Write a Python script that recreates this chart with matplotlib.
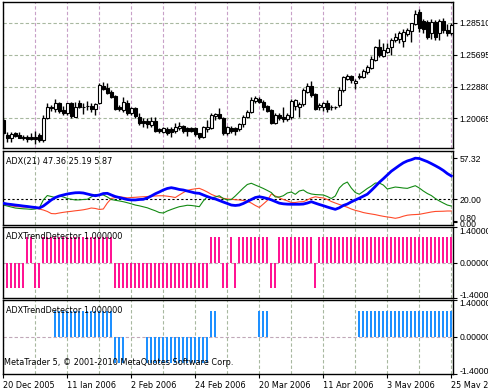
import matplotlib
matplotlib.use('Agg')
import matplotlib.pyplot as plt
import matplotlib.transforms as mtransforms
import numpy as np

# EURUSD daily, 20 Dec 2005 - 25 May 2006 --------------------------------------------

opens = [1.1993, 1.1861, 1.1834, 1.1878, 1.1861, 1.1843, 1.1843, 1.1843, 1.1843, 1.1861,
         1.1816, 1.2010, 1.2107, 1.2090, 1.2143, 1.2081, 1.2055, 1.2143, 1.2019, 1.2143,
         1.2107, 1.2116, 1.2116, 1.2090, 1.2143, 1.2293, 1.2275, 1.2240, 1.2204, 1.2107,
         1.2081, 1.2143, 1.2055, 1.2099, 1.2019, 1.1984, 1.1984, 1.1949, 1.1984, 1.1913,
         1.1887, 1.1913, 1.1913, 1.1896, 1.1922, 1.1940, 1.1922, 1.1922, 1.1922, 1.1878,
         1.1843, 1.1913, 1.1922, 1.2028, 1.2046, 1.2010, 1.1878, 1.1922, 1.1922, 1.1913,
         1.1958, 1.2019, 1.2063, 1.2160, 1.2178, 1.2152, 1.2116, 1.2081, 1.1966, 1.2037,
         1.2019, 1.2002, 1.2019, 1.2116, 1.2107, 1.2134, 1.2240, 1.2293, 1.2222, 1.2107,
         1.2107, 1.2143, 1.2107, 1.2107, 1.2125, 1.2257, 1.2354, 1.2381, 1.2319, 1.2372,
         1.2372, 1.2416, 1.2451, 1.2522, 1.2637, 1.2557, 1.2593, 1.2637, 1.2698, 1.2707,
         1.2690, 1.2751, 1.2778, 1.2839, 1.2945, 1.2866, 1.2857, 1.2760, 1.2857, 1.2760,
         1.2866, 1.2787, 1.2760]
highs = [1.2010, 1.1887, 1.1887, 1.1887, 1.1887, 1.1861, 1.1861, 1.1878, 1.1896, 1.1878,
         1.2037, 1.2143, 1.2125, 1.2178, 1.2152, 1.2116, 1.2143, 1.2152, 1.2152, 1.2169,
         1.2143, 1.2160, 1.2143, 1.2143, 1.2319, 1.2328, 1.2319, 1.2257, 1.2213, 1.2125,
         1.2196, 1.2169, 1.2107, 1.2107, 1.2055, 1.2010, 1.2010, 1.2019, 1.2019, 1.1922,
         1.1931, 1.1931, 1.1931, 1.1966, 1.1975, 1.1949, 1.1931, 1.1931, 1.1931, 1.1882,
         1.1940, 1.1993, 1.2055, 1.2055, 1.2099, 1.2019, 1.1940, 1.1940, 1.1931, 1.1966,
         1.2037, 1.2081, 1.2196, 1.2204, 1.2196, 1.2169, 1.2125, 1.2090, 1.2055, 1.2055,
         1.2107, 1.2055, 1.2178, 1.2178, 1.2152, 1.2275, 1.2319, 1.2337, 1.2231, 1.2143,
         1.2152, 1.2169, 1.2125, 1.2116, 1.2284, 1.2381, 1.2399, 1.2390, 1.2354, 1.2407,
         1.2443, 1.2478, 1.2557, 1.2645, 1.2707, 1.2672, 1.2672, 1.2716, 1.2760, 1.2778,
         1.2795, 1.2804, 1.2852, 1.2963, 1.2972, 1.2884, 1.2875, 1.2884, 1.2875, 1.2884,
         1.2892, 1.2839, 1.2848]
lows = [1.1861, 1.1799, 1.1799, 1.1843, 1.1830, 1.1816, 1.1799, 1.1816, 1.1781, 1.1799,
        1.1799, 1.2002, 1.2072, 1.2063, 1.2055, 1.2037, 1.2037, 1.2010, 1.2015, 1.2099,
        1.2046, 1.2081, 1.2063, 1.2037, 1.2134, 1.2257, 1.2222, 1.2187, 1.2081, 1.2072,
        1.2063, 1.2037, 1.2037, 1.2010, 1.1949, 1.1931, 1.1922, 1.1931, 1.1887, 1.1878,
        1.1878, 1.1861, 1.1843, 1.1878, 1.1905, 1.1878, 1.1852, 1.1887, 1.1852, 1.1825,
        1.1834, 1.1887, 1.1913, 1.1993, 1.2002, 1.1861, 1.1861, 1.1878, 1.1861, 1.1896,
        1.1931, 1.2010, 1.2055, 1.2143, 1.2143, 1.2081, 1.2063, 1.1958, 1.1958, 1.1993,
        1.1975, 1.1984, 1.2002, 1.2081, 1.2019, 1.2116, 1.2231, 1.2196, 1.2081, 1.2081,
        1.2072, 1.2063, 1.2081, 1.2090, 1.2107, 1.2240, 1.2346, 1.2319, 1.2266, 1.2354,
        1.2363, 1.2399, 1.2443, 1.2513, 1.2548, 1.2548, 1.2584, 1.2566, 1.2681, 1.2672,
        1.2637, 1.2734, 1.2681, 1.2831, 1.2769, 1.2760, 1.2707, 1.2707, 1.2698, 1.2698,
        1.2760, 1.2734, 1.2742]
closes = [1.1878, 1.1834, 1.1869, 1.1852, 1.1834, 1.1834, 1.1825, 1.1825, 1.1825, 1.1816,
          1.2010, 1.2107, 1.2099, 1.2143, 1.2072, 1.2055, 1.2143, 1.2028, 1.2107, 1.2107,
          1.2105, 1.2114, 1.2090, 1.2134, 1.2301, 1.2266, 1.2231, 1.2196, 1.2090, 1.2090,
          1.2152, 1.2055, 1.2099, 1.2028, 1.1966, 1.1966, 1.1958, 1.1984, 1.1896, 1.1896,
          1.1922, 1.1878, 1.1887, 1.1931, 1.1940, 1.1896, 1.1896, 1.1896, 1.1869, 1.1843,
          1.1931, 1.1931, 1.2037, 1.2046, 1.2010, 1.1878, 1.1931, 1.1896, 1.1896, 1.1958,
          1.2019, 1.2063, 1.2169, 1.2187, 1.2152, 1.2107, 1.2072, 1.1966, 1.2037, 1.2010,
          1.2002, 1.2037, 1.2160, 1.2169, 1.2134, 1.2257, 1.2293, 1.2213, 1.2090, 1.2125,
          1.2143, 1.2090, 1.2105, 1.2109, 1.2257, 1.2372, 1.2381, 1.2346, 1.2337, 1.2381,
          1.2425, 1.2460, 1.2531, 1.2637, 1.2566, 1.2610, 1.2628, 1.2698, 1.2725, 1.2760,
          1.2769, 1.2787, 1.2848, 1.2928, 1.2804, 1.2795, 1.2725, 1.2857, 1.2725, 1.2866,
          1.2787, 1.2760, 1.2831]

# ADX(21): main line, +DI, -DI
adx_main = [16.5, 15.8, 15.4, 14.9, 14.5, 14.0, 13.6, 13.1, 12.7, 12.2,
            14.0, 16.7, 19.5, 21.7, 23.1, 24.0, 24.9, 25.5, 26.0, 26.1,
            25.8, 24.9, 24.0, 23.3, 24.0, 25.3, 25.5, 24.0, 22.6, 21.7,
            20.8, 19.9, 19.5, 19.5, 19.9, 20.1, 21.3, 23.1, 25.1, 26.7,
            28.5, 29.9, 30.6, 29.9, 29.0, 28.5, 27.6, 26.7, 25.8, 25.5,
            24.0, 22.6, 21.3, 20.4, 19.0, 17.6, 16.3, 14.9, 14.5, 14.9,
            16.3, 18.1, 19.9, 21.7, 22.4, 21.7, 20.8, 19.6, 18.1, 16.6,
            16.0, 15.7, 15.6, 15.6, 15.6, 15.8, 16.7, 17.9, 16.6, 15.4,
            14.3, 13.1, 12.0, 11.0, 12.4, 14.5, 15.8, 17.8, 19.5, 21.1,
            22.9, 24.7, 28.1, 31.7, 35.5, 38.7, 42.1, 45.5, 48.1, 50.7,
            53.1, 54.8, 55.9, 57.3, 57.0, 55.6, 54.2, 52.4, 50.5, 48.5,
            46.2, 43.4, 41.2]
plus_di = [14.9, 14.0, 13.1, 12.2, 11.8, 11.5, 11.3, 11.0, 11.3, 12.2,
           19.5, 23.5, 22.6, 21.7, 23.1, 22.2, 20.8, 20.1, 19.5, 19.6,
           19.9, 20.1, 22.2, 24.4, 24.4, 24.0, 22.2, 19.9, 19.2, 18.6,
           17.9, 17.0, 16.0, 14.9, 14.2, 13.3, 12.4, 11.0, 9.7, 8.1,
           7.7, 9.5, 10.9, 12.2, 13.4, 14.0, 14.7, 14.5, 14.0, 13.4,
           18.6, 22.4, 21.4, 22.2, 23.3, 20.8, 19.5, 19.9, 23.1, 26.7,
           30.3, 33.5, 34.6, 33.0, 31.5, 29.9, 28.1, 26.2, 22.2, 22.2,
           23.3, 25.8, 26.7, 24.6, 27.6, 28.5, 26.1, 24.9, 24.4, 24.2,
           24.0, 22.6, 20.8, 23.1, 30.3, 33.9, 35.7, 30.3, 26.2, 24.7,
           27.2, 29.9, 32.1, 34.8, 34.8, 33.0, 29.4, 30.3, 31.2, 30.8,
           30.3, 30.0, 31.2, 32.4, 30.3, 27.6, 25.3, 23.5, 20.8, 18.6,
           16.7, 14.9, 14.0]
minus_di = [15.6, 14.9, 14.2, 13.6, 13.3, 13.1, 12.9, 12.6, 12.2, 11.3,
            10.4, 9.1, 7.2, 7.0, 7.7, 8.3, 8.8, 9.2, 9.7, 10.1,
            10.6, 11.3, 12.2, 11.8, 10.9, 11.3, 16.7, 20.8, 21.7, 22.4,
            21.9, 21.4, 21.7, 21.9, 22.2, 22.4, 22.6, 22.9, 23.1, 23.3,
            23.3, 22.9, 22.4, 21.7, 24.0, 26.2, 28.1, 29.0, 29.6, 30.0,
            28.5, 26.7, 24.6, 23.1, 22.0, 21.0, 20.4, 20.1, 19.7, 19.5,
            19.0, 18.3, 16.7, 14.5, 12.7, 15.8, 19.0, 24.9, 23.1, 21.4,
            19.9, 18.7, 17.2, 17.2, 17.8, 17.9, 19.5, 21.3, 22.4, 21.7,
            21.3, 19.9, 18.1, 16.7, 15.4, 14.2, 12.9, 11.3, 10.1, 9.2,
            8.1, 7.4, 6.8, 6.2, 5.4, 4.7, 4.1, 3.6, 2.9, 3.6,
            4.8, 5.7, 6.1, 6.3, 6.5, 7.2, 7.9, 8.6, 9.1, 9.2,
            9.3, 9.5, 9.5]

# ADXTrendDetector histograms (+1 / -1 / 0)
trend_a = [0, -1, -1, -1, -1, -1, 1, 1, -1, -1,
           1, 1, 1, 1, 1, 1, 1, 1, 1, 1,
           1, 1, 1, 1, 1, 1, 1, 1, -1, -1,
           -1, -1, -1, -1, -1, -1, -1, -1, -1, -1,
           -1, -1, -1, -1, -1, -1, -1, -1, -1, -1,
           -1, -1, 1, 1, 1, -1, -1, 1, -1, 1,
           1, 1, 1, 1, 1, 1, 1, -1, -1, 1,
           1, 1, 1, 1, 1, 1, 1, 1, -1, 1,
           1, 1, 1, 1, 1, 1, 1, 1, 1, 1,
           1, 1, 1, 1, 1, 1, 1, 1, 1, 1,
           1, 1, 1, 1, 1, 1, 1, 1, 1, 1,
           1, 1, 1]
trend_b = [0, 0, 0, 0, 0, 0, 0, 0, 0, 0,
           0, 0, 0, 1, 1, 1, 1, 1, 1, 1,
           1, 1, 1, 1, 1, 1, 1, 1, -1, -1,
           -1, 0, 0, 0, 0, 0, -1, -1, -1, -1,
           -1, -1, -1, -1, -1, -1, -1, -1, -1, -1,
           -1, -1, 1, 1, 0, 0, 0, 0, 0, 0,
           0, 0, 0, 0, 1, 1, 1, 0, 0, 0,
           0, 0, 0, 0, 0, 0, 0, 0, 0, 0,
           0, 0, 0, 0, 0, 0, 0, 0, 0, 1,
           1, 1, 1, 1, 1, 1, 1, 1, 1, 1,
           1, 1, 1, 1, 1, 1, 1, 1, 1, 1,
           1, 1, 1]

date_ticks = [0, 16, 32, 48, 64, 80, 96, 112]
date_labels = ['20 Dec 2005', '11 Jan 2006', '2 Feb 2006', '24 Feb 2006',
               '20 Mar 2006', '11 Apr 2006', '3 May 2006', '25 May 2006']
price_ticks = [1.20065, 1.22880, 1.25695, 1.28510]

# FIGURE SETUP ---------------------------------------------------------------------
W, H = 489, 388
FS = 5.9          # panel captions / dates
FS_AX = 6.2       # right price scale (narrow digits)
AX_FONT = ['Liberation Sans', 'DejaVu Sans']
plt.rcParams['font.family'] = 'DejaVu Sans'
plt.rcParams['font.size'] = FS
fig = plt.figure(figsize=(W / 100, H / 100), dpi=100)

def px_axes(x0, y0, x1, y1):
    # axes placed in pixel coordinates (top-left origin)
    return fig.add_axes([x0 / W, 1 - y1 / H, (x1 - x0) / W, (y1 - y0) / H])

def nudge(label, dy_px):
    label.set_transform(label.get_transform() +
                        mtransforms.ScaledTranslation(0, dy_px / 100, fig.dpi_scale_trans))

def right_labels(ax, ticks, texts):
    ax.set_yticks(ticks)
    ax.set_yticklabels(texts, fontsize=FS_AX, family=AX_FONT)
    return ax.get_yticklabels()

bars = np.arange(len(closes))
XMIN, XMAX = -0.2, 112.42
grid_x = np.arange(0, 113, 8) - 0.2
vgrid_main = '#c8a0c8'
vgrid_sub = '#a8b8a0'

def style(ax):
    ax.set_xlim(XMIN, XMAX)
    ax.yaxis.tick_right()
    ax.tick_params(axis='y', direction='out', length=3, width=0.8, pad=1.5)
    ax.set_xticks([])
    for s in ax.spines.values():
        s.set_color('black')
        s.set_linewidth(1)

# MAIN PRICE PANEL -----------------------------------------------------------------
ax1 = px_axes(2.5, 1.5, 453, 148)
style(ax1)
ax1.set_ylim(1.30512 - 0.000882 * 148, 1.30512 - 0.000882 * 1.5)
for gx in grid_x:
    ax1.axvline(gx, color=vgrid_main, lw=0.8, ls=(0, (3, 2)), zorder=0)
for py in price_ticks:
    ax1.axhline(py, color='#a8b8a0', lw=0.8, ls=(0, (3, 2)), zorder=0)
right_labels(ax1, price_ticks, ['%.5f' % p for p in price_ticks])

o = np.array(opens); c = np.array(closes)
up = c >= o
body_lo = np.minimum(o, c)
body_h = np.maximum(np.abs(c - o), 0.00025)
ax1.vlines(bars, lows, highs, color='black', lw=1, zorder=2)
ax1.bar(bars, body_h, bottom=body_lo, width=0.68,
        color=np.where(up, 'white', 'black'), edgecolor='black', lw=0.8, zorder=3)

# ADX PANEL ------------------------------------------------------------------------
ax2 = px_axes(2.5, 151, 453, 225)
style(ax2)
ax2.set_ylim((221.5 - 225) * 0.905, (221.5 - 151) * 0.905)
for gx in grid_x:
    ax2.axvline(gx, color=vgrid_sub, lw=0.8, ls=(0, (3, 2)), zorder=0)
ax2.axhline(20, color='black', lw=0.8, ls=(0, (2, 2)), zorder=1)
ax2.plot(bars, minus_di, color='#ff4a2a', lw=0.8, zorder=2)
ax2.plot(bars, plus_di, color='#138a13', lw=0.8, zorder=2)
ax2.plot(bars, adx_main, color='#0000ff', lw=2.0, zorder=3)
lbls = right_labels(ax2, [57.32, 20.0, 0.80, 0.0], ['57.32', '20.00', '0.80', '0.00'])
nudge(lbls[2], 3)
nudge(lbls[3], -2)
ax2.text(0.008, 0.86, 'ADX(21) 47.36 25.19 5.87', transform=ax2.transAxes,
         fontsize=FS, va='center', ha='left')

# TREND DETECTOR PANELS -------------------------------------------------------------
def detector(ax, values, color):
    style(ax)
    ax.set_ylim(-1.4, 1.4)
    for gx in grid_x:
        ax.axvline(gx, color=vgrid_sub, lw=0.8, ls=(0, (3, 2)), zorder=0)
    ax.axhline(0, color='#c0a8b8', lw=0.8, ls=(0, (3, 2)), zorder=0)
    ax.bar(bars - 0.15, values, width=0.5, color=color, lw=0, zorder=2)
    lb = right_labels(ax, [1.4, 0.0, -1.4], ['1.400000', '0.000000', '-1.400000'])
    nudge(lb[0], -3)
    nudge(lb[2], 4)
    ax.text(0.008, 0.86, 'ADXTrendDetector 1.000000', transform=ax.transAxes,
            fontsize=FS, va='center', ha='left')

ax3 = px_axes(2.5, 227, 453, 298)
detector(ax3, trend_a, '#ff1493')

ax4 = px_axes(2.5, 300, 453, 374)
detector(ax4, trend_b, '#1e90ff')
ax4.set_xticks(date_ticks)
ax4.set_xticklabels(date_labels, ha='left', fontsize=FS)
ax4.tick_params(axis='x', direction='out', length=3, width=0.8, pad=2)
ax4.text(0.004, 0.16, 'MetaTrader 5, \u00a9 2001-2010 MetaQuotes Software Corp.',
         transform=ax4.transAxes, fontsize=FS, va='center', ha='left')

fig.savefig('out.png', dpi=100)
